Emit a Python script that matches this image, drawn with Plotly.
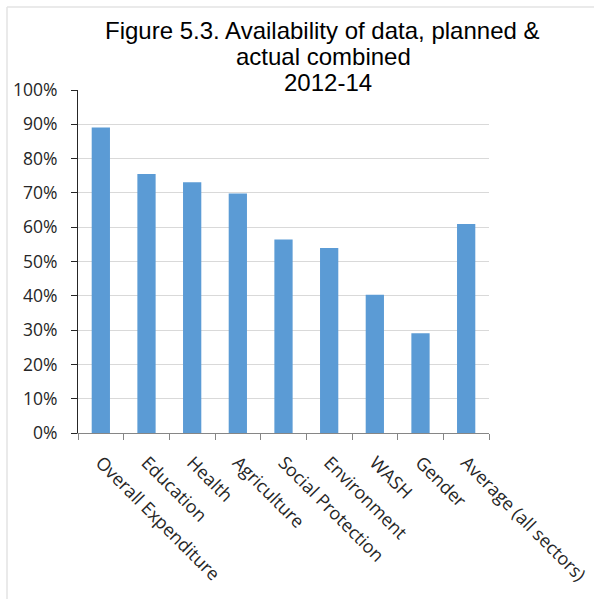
import plotly.graph_objects as go

categories = ["Overall Expenditure", "Education", "Health", "Agriculture",
              "Social Protection", "Environment", "WASH", "Gender",
              "Average (all sectors)"]
values = [0.891, 0.755, 0.731, 0.698, 0.564, 0.539, 0.403, 0.291, 0.609]
title_lines = ["Figure 5.3. Availability of data, planned &", "actual combined", "2012-14"]

W, H = 594, 599
L, R, T, B = 78, 105, 90, 166
pw, ph = W - L - R, H - T - B

def px_x(x):
    return (x - L) / pw

def px_y(y):
    return (H - B - y) / ph

fig = go.Figure(go.Bar(x=categories, y=values, marker=dict(color="#5B9BD5", line=dict(width=0))))

tick_font = dict(family="Open Sans", size=17.5, color="#262626")

fig.update_layout(
    width=W, height=H,
    margin=dict(l=L, r=R, t=T, b=B, autoexpand=False),
    paper_bgcolor="white", plot_bgcolor="white",
    bargap=0.6,
    showlegend=False,
)

for line, xc, yc in zip(title_lines, [322, 323, 328], [30, 56.5, 83]):
    fig.add_annotation(text=line, x=px_x(xc), y=px_y(yc), xref="paper", yref="paper",
                       xanchor="center", yanchor="middle", showarrow=False,
                       font=dict(family="Liberation Sans", size=24, color="black"))

fig.update_xaxes(
    type="category", tickangle=45, tickfont=dict(family="Open Sans", size=18, color="#262626"),
    showline=True, linecolor="#868686", linewidth=1,
    ticks="outside", ticklen=6, tickcolor="#868686", tickson="boundaries",
    showgrid=False, ticklabelstandoff=11,
)
fig.update_yaxes(
    range=[0, 1], dtick=0.1, tickformat=".0%", tickfont=tick_font,
    showline=True, linecolor="#262626", linewidth=1,
    ticks="outside", ticklen=6, tickcolor="#262626",
    gridcolor="#D9D9D9", gridwidth=1, zeroline=False,
    ticklabelstandoff=10,
)

# light chart-area border (top and left)
fig.add_shape(type="line", xref="paper", yref="paper", x0=px_x(7), x1=px_x(600), y0=px_y(7), y1=px_y(7),
              line=dict(color="#E3E3E3", width=1.5), layer="below")
fig.add_shape(type="line", xref="paper", yref="paper", x0=px_x(7), x1=px_x(7), y0=px_y(7), y1=px_y(605),
              line=dict(color="#E3E3E3", width=1.5), layer="below")

fig.write_html("out.html")
